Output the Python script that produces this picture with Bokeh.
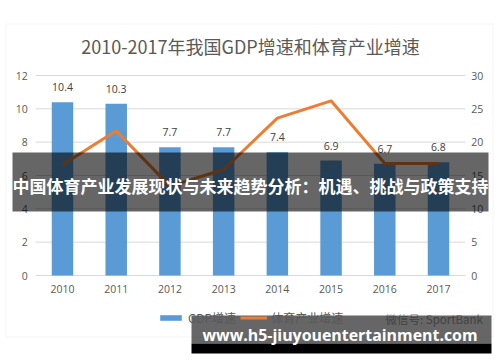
from bokeh.plotting import figure
from bokeh.models import (Range1d, LinearAxis, CategoricalAxis, FixedTicker, Label, BoxAnnotation,
                          Legend, LegendItem, ColumnDataSource, FactorRange)
from bokeh.transform import dodge
from bokeh.embed import file_html
from bokeh.resources import INLINE
from bokeh.core.properties import value

years = ["2010", "2011", "2012", "2013", "2014", "2015", "2016", "2017"]
gdp_growth = [10.4, 10.3, 7.7, 7.7, 7.4, 6.9, 6.7, 6.8]
sports_growth = [16.6, 21.7, 13.4, 15.9, 23.6, 26.2, 16.8, 16.8]
left_ticks = [0, 2, 4, 6, 8, 10, 12]
right_ticks = [0, 5, 10, 15, 20, 25, 30]
title_text = "2010-2017年我国GDP增速和体育产业增速"
series_names = ["GDP增速", "体育产业增速"]
overlay_text = "中国体育产业发展现状与未来趋势分析：机遇、挑战与政策支持"
source_text = "微信号: SportBank"
watermark_text = "www.h5-jiuyouentertainment.com"

W, H = 500, 362
# plot area inside the canvas (pixels from top-left)
AREA_TOP, AREA_BOTTOM = 75, 275
px_per_unit = (AREA_BOTTOM - AREA_TOP) / left_ticks[-1]
y_lo = -(H - AREA_BOTTOM) / px_per_unit
y_hi = left_ticks[-1] + AREA_TOP / px_per_unit
ratio = right_ticks[-1] / left_ticks[-1]


def sy(canvas_y):
    return H - canvas_y


CJK = "Noto Sans CJK SC"
NUM = "Open Sans"
GRAY = "#595959"

src = ColumnDataSource(dict(
    year=years, gdp=gdp_growth, sports=sports_growth,
    lbl=[f"{v:.1f}" for v in gdp_growth]))
grid_src = ColumnDataSource(dict(
    y=left_ticks, first=[years[0]] * len(left_ticks), last=[years[-1]] * len(left_ticks)))

xr = FactorRange(*years, range_padding=0.1636, range_padding_units="percent")
p = figure(width=W, height=H, x_range=xr, y_range=Range1d(y_lo, y_hi),
           output_backend="svg", toolbar_location=None, tools="",
           min_border=0, min_border_left=0, min_border_right=0,
           min_border_top=0, min_border_bottom=0, x_axis_location=None, y_axis_location=None)
p.background_fill_color = "white"
p.border_fill_color = "white"
p.outline_line_color = None
p.grid.visible = False
p.extra_y_ranges = {"right": Range1d(y_lo * ratio, y_hi * ratio)}

# axes drawn at fixed positions inside the canvas
la = LinearAxis(ticker=FixedTicker(ticks=left_ticks), fixed_location=0)
ra = LinearAxis(y_range_name="right", ticker=FixedTicker(ticks=right_ticks), fixed_location=len(years))
for ax, so in ((la, 2), (ra, 0)):
    ax.axis_line_color = None
    ax.major_tick_line_color = None
    ax.minor_tick_line_color = None
    ax.major_label_text_font = NUM
    ax.major_label_text_font_size = "10.5px"
    ax.major_label_text_color = GRAY
    ax.major_label_standoff = so
p.add_layout(la, "left")
p.add_layout(ra, "right")

xa = CategoricalAxis(fixed_location=0)
xa.axis_line_color = None
xa.major_tick_line_color = None
xa.minor_tick_line_color = None
xa.major_label_text_font = NUM
xa.major_label_text_font_size = "10.5px"
xa.major_label_text_color = GRAY
xa.major_label_standoff = 3
p.add_layout(xa, "below")

# outer chart border
p.add_layout(BoxAnnotation(left=5.5, right=492.5, top=sy(23.5), bottom=sy(336.5),
                           left_units="screen", right_units="screen",
                           top_units="screen", bottom_units="screen",
                           fill_alpha=0, line_color="#D9D9D9", line_width=1, level="underlay"))

# horizontal grid lines across the plot area
p.segment(x0=dodge("first", -0.5, range=xr), x1=dodge("last", 0.5, range=xr), y0="y", y1="y",
          source=grid_src, line_color="#D9D9D9", line_width=1, level="underlay")

bars = p.vbar(x="year", top="gdp", width=0.4, source=src, fill_color="#5B9BD5", line_color=None)
line = p.line(x="year", y="sports", source=src, line_color="#ED7D31", line_width=3,
              y_range_name="right")
p.text(x="year", y="gdp", text="lbl", source=src, text_align="center", text_baseline="middle",
       y_offset=-15, text_font=value(NUM), text_font_size="10.5px", text_color="#404040")

# title
p.add_layout(Label(x=250, y=sy(45), x_units="screen", y_units="screen", text=title_text,
                   text_align="center", text_baseline="middle", text_font=CJK,
                   text_font_size="18px", text_color=GRAY))

legend = Legend(items=[LegendItem(label=series_names[0], renderers=[bars]),
                       LegendItem(label=series_names[1], renderers=[line])],
                orientation="horizontal", location=(157, sy(326)),
                glyph_width=27, glyph_height=7, label_height=14, label_standoff=4,
                spacing=4, padding=0, margin=0, border_line_color=None,
                background_fill_alpha=0, label_text_font=CJK,
                label_text_font_size="12px", label_text_color=GRAY)
p.add_layout(legend, "center")

p.add_layout(Label(x=385, y=sy(318), x_units="screen", y_units="screen", text=source_text,
                   text_align="left", text_baseline="middle", text_font=CJK,
                   text_font_size="11.5px", text_color="#A6A6A6"))

# overlay band
p.add_layout(BoxAnnotation(left=12, right=488, top=sy(152), bottom=sy(211),
                           left_units="screen", right_units="screen",
                           top_units="screen", bottom_units="screen",
                           fill_color="black", fill_alpha=0.6, line_color=None))
p.add_layout(Label(x=250, y=sy(185), x_units="screen", y_units="screen", text=overlay_text,
                   text_align="center", text_baseline="middle", text_font=CJK,
                   text_font_style="bold", text_font_size="17px", text_color="white"))

# watermark box
p.add_layout(BoxAnnotation(left=191, right=491, top=sy(315), bottom=sy(343),
                           left_units="screen", right_units="screen",
                           top_units="screen", bottom_units="screen",
                           fill_color="black", fill_alpha=0.6, line_color=None))
p.add_layout(BoxAnnotation(left=191, right=491, top=sy(343), bottom=sy(353),
                           left_units="screen", right_units="screen",
                           top_units="screen", bottom_units="screen",
                           fill_color="black", fill_alpha=1, line_color=None))
p.add_layout(Label(x=339.5, y=sy(334), x_units="screen", y_units="screen", text=watermark_text,
                   text_align="center", text_baseline="middle", text_font="Open Sans",
                   text_font_style="bold", text_font_size="15.9px", text_color="white"))

open("out.html", "w").write(file_html(p, INLINE))
